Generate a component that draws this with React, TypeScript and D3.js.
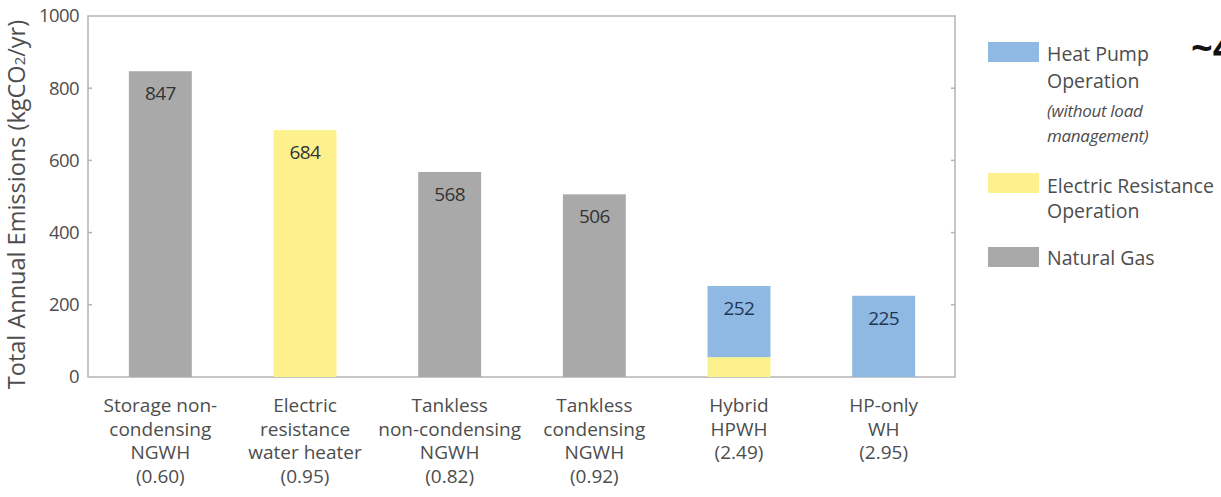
import React from 'react';
import * as d3 from 'd3';

// categories, one entry per bar, split into label lines
const categories = ['storage', 'electric', 'tanklessNC', 'tanklessC', 'hybrid', 'hpOnly'];
const categoryLines = [
    ['Storage non-', 'condensing', 'NGWH', '(0.60)'],
    ['Electric', 'resistance', 'water heater', '(0.95)'],
    ['Tankless', 'non-condensing', 'NGWH', '(0.82)'],
    ['Tankless', 'condensing', 'NGWH', '(0.92)'],
    ['Hybrid', 'HPWH', '(2.49)'],
    ['HP-only', 'WH', '(2.95)'],
];

// series values (kgCO2/yr)
const naturalGas = [847, 0, 568, 506, 0, 0];
const electricResistance = [0, 684, 0, 0, 55, 0];
const heatPump = [0, 0, 0, 0, 197, 225];
const totalLabels = ['847', '684', '568', '506', '252', '225'];

const yTicks = [0, 200, 400, 600, 800, 1000];

const seriesKeys = ['naturalGas', 'electricResistance', 'heatPump'];
const colors: Record<string, string> = {
    naturalGas: '#a9a9a9',
    electricResistance: '#fdf18e',
    heatPump: '#8fb9e2',
};
const labelColors = ['#333', '#333', '#333', '#333', '#1f3655', '#1f3655'];

const FONT = '"Open Sans", sans-serif';
const TEXT = '#4d4d4d';

const App: React.FC = () => {
    const width = 1221;
    const height = 497;
    const plot = {left: 88, right: 955, top: 16, bottom: 377};

    const rows = categories.map((c, i) => ({
        cat: c,
        naturalGas: naturalGas[i],
        electricResistance: electricResistance[i],
        heatPump: heatPump[i],
    }));
    const stacked = d3.stack<any>().keys(seriesKeys)(rows);

    const x = d3.scaleBand<string>()
        .domain(categories)
        .range([plot.left, plot.right + 1])
        .paddingInner(0.565)
        .paddingOuter(0.2825);

    const y = d3.scaleLinear().domain([0, 1000]).range([plot.bottom, plot.top]);

    const totals = categories.map((_, i) => naturalGas[i] + electricResistance[i] + heatPump[i]);
    const lineGap = 23.7;

    return (
        <svg width={width} height={height}
             style={{position: 'absolute', left: 0, top: 0, background: '#fff'}}
             fontFamily={FONT}>
            {/* frame */}
            <rect x={plot.left} y={plot.top} width={plot.right - plot.left} height={plot.bottom - plot.top}
                  fill="none" stroke="#b4b4b4" strokeWidth={1.5}/>
            {yTicks.slice(1, -1).map(t => (
                <g key={t}>
                    <line x1={plot.left} x2={plot.left + 4} y1={y(t)} y2={y(t)} stroke="#b4b4b4" strokeWidth={1.5}/>
                    <line x1={plot.right - 4} x2={plot.right} y1={y(t)} y2={y(t)} stroke="#b4b4b4" strokeWidth={1.5}/>
                </g>
            ))}

            {/* y tick labels */}
            {yTicks.map(t => (
                <text key={t} x={plot.left - 9} y={y(t)} dy="0.35em" textAnchor="end"
                      fontSize={18.5} fill={TEXT} letterSpacing={-0.6}>{t}</text>
            ))}

            {/* y axis title */}
            <text transform={`translate(16,${(plot.top + plot.bottom) / 2 + 8}) rotate(-90)`}
                  textAnchor="middle" dominantBaseline="central" fontSize={23.5} fill={TEXT}>
                Total Annual Emissions (kgCO<tspan fontSize={15} dy="3">2</tspan><tspan dy="-3">/yr)</tspan>
            </text>

            {/* bars */}
            {stacked.map(s => (
                <g key={s.key} fill={colors[s.key]}>
                    {s.map((d, i) => d[1] - d[0] > 0 ? (
                        <rect key={i} x={x(categories[i])} width={x.bandwidth()}
                              y={y(d[1])} height={y(d[0]) - y(d[1])}/>
                    ) : null)}
                </g>
            ))}

            {/* value labels */}
            {categories.map((c, i) => (
                <text key={c} x={(x(c) ?? 0) + x.bandwidth() / 2} y={y(totals[i]) + 22}
                      dominantBaseline="central" textAnchor="middle" fontSize={19}
                      fill={labelColors[i]} letterSpacing={-0.6}>{totalLabels[i]}</text>
            ))}

            {/* category labels, one text per line */}
            {categories.map((c, i) => (
                <g key={c}>
                    {categoryLines[i].map((ln, j) => (
                        <text key={j} x={(x(c) ?? 0) + x.bandwidth() / 2} y={plot.bottom + 35 + j * lineGap}
                              textAnchor="middle" fontSize={19} fill={TEXT}>{ln}</text>
                    ))}
                </g>
            ))}

            {/* legend */}
            <g fontSize={19.5} fill={TEXT}>
                <rect x={988} y={42} width={51} height={20} fill={colors.heatPump}/>
                <text x={1047} y={61}>Heat Pump</text>
                <text x={1047} y={88}>Operation</text>
                <text x={1047} y={117} fontSize={17} fontStyle="italic" letterSpacing={-0.3}>(without load</text>
                <text x={1047} y={142} fontSize={17} fontStyle="italic" letterSpacing={-0.3}>management)</text>

                <rect x={988} y={173} width={51} height={20} fill={colors.electricResistance}/>
                <text x={1047} y={193}>Electric Resistance</text>
                <text x={1047} y={218}>Operation</text>

                <rect x={988} y={247} width={51} height={20} fill={colors.naturalGas}/>
                <text x={1047} y={265}>Natural Gas</text>
            </g>

            {/* annotation clipped by the right edge, as in the source image */}
            <text x={1191} y={61} fontSize={38} fontWeight="bold" fill="#111">~4</text>
        </svg>
    );
};

export default App;
